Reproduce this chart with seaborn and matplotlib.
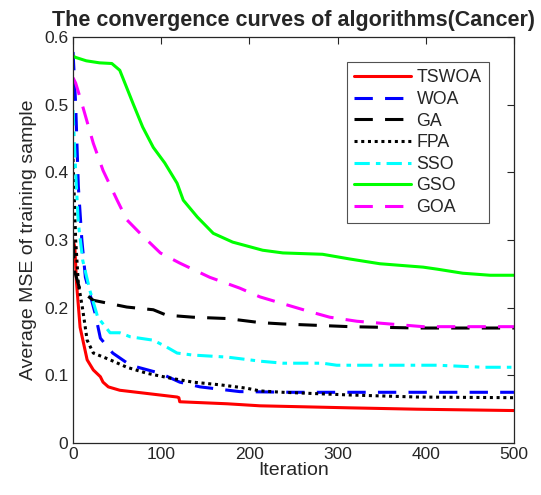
import numpy as np
import pandas as pd
import matplotlib
matplotlib.use("Agg")
import matplotlib.pyplot as plt
import seaborn as sns

# Convergence data (iteration, MSE) for each algorithm
tswoa_it = [0, 2, 4, 8, 16, 23, 31, 34, 40, 53, 79, 118, 120, 121, 175, 212, 314, 390, 500]
tswoa_v = [0.300, 0.290, 0.236, 0.171, 0.123, 0.108, 0.098, 0.090, 0.083, 0.078, 0.074, 0.068, 0.067, 0.061, 0.058, 0.055, 0.052, 0.050, 0.048]

woa_it = [0, 3, 6, 10, 14, 25, 31, 45, 65, 99, 121, 144, 189, 250, 350, 500]
woa_v = [0.578, 0.500, 0.380, 0.300, 0.245, 0.192, 0.155, 0.133, 0.115, 0.103, 0.090, 0.083, 0.076, 0.075, 0.075, 0.075]

ga_it = [0, 2, 8, 23, 61, 91, 106, 136, 175, 212, 238, 314, 390, 500]
ga_v = [0.300, 0.253, 0.226, 0.211, 0.201, 0.197, 0.189, 0.186, 0.184, 0.178, 0.176, 0.172, 0.170, 0.170]

fpa_it = [0, 3, 6, 11, 16, 23, 42, 61, 84, 110, 136, 167, 197, 212, 238, 314, 390, 500]
fpa_v = [0.420, 0.300, 0.236, 0.197, 0.152, 0.133, 0.123, 0.112, 0.103, 0.096, 0.090, 0.086, 0.081, 0.077, 0.075, 0.071, 0.068, 0.067]

sso_it = [0, 3, 6, 11, 19, 28, 42, 53, 65, 91, 106, 118, 136, 175, 212, 238, 283, 299, 413, 465, 500]
sso_v = [0.492, 0.399, 0.325, 0.270, 0.226, 0.186, 0.163, 0.163, 0.157, 0.152, 0.142, 0.133, 0.130, 0.127, 0.121, 0.118, 0.118, 0.115, 0.115, 0.112, 0.112]

gso_it = [0, 3, 15, 30, 44, 53, 68, 79, 91, 104, 118, 125, 141, 159, 181, 215, 238, 283, 314, 348, 397, 413, 442, 473, 500]
gso_v = [0.572, 0.570, 0.565, 0.562, 0.561, 0.551, 0.502, 0.467, 0.437, 0.414, 0.384, 0.359, 0.334, 0.310, 0.297, 0.285, 0.281, 0.279, 0.272, 0.265, 0.260, 0.257, 0.251, 0.248, 0.248]

goa_it = [0, 3, 10, 23, 34, 50, 61, 76, 99, 121, 155, 189, 212, 243, 269, 291, 322, 359, 397, 447, 500]
goa_v = [0.540, 0.532, 0.502, 0.443, 0.403, 0.359, 0.330, 0.310, 0.281, 0.266, 0.245, 0.229, 0.216, 0.204, 0.194, 0.186, 0.180, 0.176, 0.172, 0.172, 0.172]

names = ["TSWOA", "WOA", "GA", "FPA", "SSO", "GSO", "GOA"]
series_it = [tswoa_it, woa_it, ga_it, fpa_it, sso_it, gso_it, goa_it]
series_v = [tswoa_v, woa_v, ga_v, fpa_v, sso_v, gso_v, goa_v]
colors = ["#ff0000", "#0000ff", "#000000", "#000000", "#00ffff", "#00ff00", "#ff00ff"]
styles = ["-", (0, (6, 4)), (0, (6, 4)), (0, (1, 1.2)), (0, (5, 2, 1.5, 2)), "-", (0, (6, 4))]

frames = []
for n, it, v in zip(names, series_it, series_v):
    frames.append(pd.DataFrame({"Iteration": it, "MSE": v, "Algorithm": n}))
df = pd.concat(frames, ignore_index=True)

sns.set_style("white")
plt.rcParams["font.family"] = ["Liberation Sans", "DejaVu Sans"]

fig = plt.figure(figsize=(5.41, 4.95), dpi=100)
ax = fig.add_axes([0.135, 0.105, 0.815, 0.82])

for n, c, ls in zip(names, colors, styles):
    sub = df[df["Algorithm"] == n]
    sns.lineplot(data=sub, x="Iteration", y="MSE", ax=ax, color=c, linewidth=2.2,
                 label=n, estimator=None, sort=False)
    ax.lines[-1].set_linestyle(ls)

ax.set_xlim(0, 500)
ax.set_ylim(0, 0.6)
ax.set_xticks([0, 100, 200, 300, 400, 500])
ax.set_yticks([0, 0.1, 0.2, 0.3, 0.4, 0.5, 0.6])
ax.set_yticklabels(["0", "0.1", "0.2", "0.3", "0.4", "0.5", "0.6"])
ax.tick_params(direction="in", top=True, right=True, length=5, width=0.8,
               labelsize=12.5, colors="#262626")
ax.tick_params(axis="x", pad=3)
for s in ax.spines.values():
    s.set_color("#262626")
    s.set_linewidth(0.9)

ax.set_xlabel("Iteration", fontsize=14, labelpad=0)
ax.set_ylabel("Average MSE of training sample", fontsize=14, labelpad=5)
ax.set_title("The convergence curves of algorithms(Cancer)", fontsize=15.5, fontweight="bold", pad=8)

leg = ax.legend(loc="upper right", bbox_to_anchor=(0.963, 0.96), fontsize=12.8,
                frameon=True, fancybox=False, edgecolor="#262626", handlelength=3.2,
                handletextpad=0.3, labelspacing=0.26, borderpad=0.4)
leg.get_frame().set_linewidth(0.8)
for h, ls in zip(leg.get_lines(), styles):
    h.set_linestyle(ls)

fig.savefig("out.png", dpi=100)
